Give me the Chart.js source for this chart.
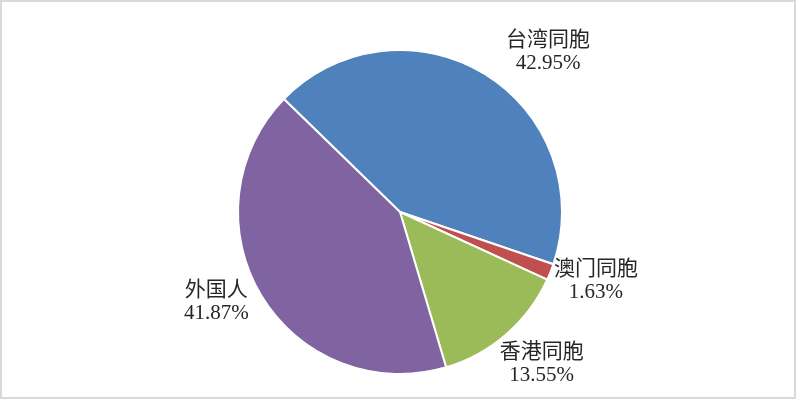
<!DOCTYPE html>
<html>
<head>
<meta charset="utf-8">
<script src="https://cdn.jsdelivr.net/npm/chart.js@4"></script>
<style>
  html, body { margin: 0; padding: 0; background: #fff; }
  #wrap { width: 796px; height: 399px; position: relative; }
</style>
</head>
<body>
<div id="wrap"><canvas id="grafikPie" width="796" height="399"></canvas></div>
<script>
// Data
const categories = ["台湾同胞", "澳门同胞", "香港同胞", "外国人"];
const values = [42.95, 1.63, 13.55, 41.87];
const valueLabels = ["42.95%", "1.63%", "13.55%", "41.87%"];
const colors = ["#4F81BD", "#C0504D", "#9BBB59", "#8064A2"];

// label placement: [angle shift from slice middle (deg), distance in radii]
const labelShift = [11.1, -2.6, -2.2, 5.3];
const labelDist = [1.35, 1.28, 1.28, 1.26];

const labelPlugin = {
    id: "labelPlugin",
    beforeDraw(chart) {
        const c = chart.ctx;
        c.save();
        c.fillStyle = "#fff";
        c.fillRect(0, 0, chart.width, chart.height);
        c.strokeStyle = "#d9d9d9";
        c.lineWidth = 2;
        c.strokeRect(1, 1, chart.width - 2, chart.height - 2);
        c.restore();
    },
    afterDatasetsDraw(chart) {
        const c = chart.ctx;
        const arcs = chart.getDatasetMeta(0).data;
        c.save();
        c.fillStyle = "#262626";
        c.textAlign = "center";
        c.textBaseline = "middle";
        c.font = "21px 'Liberation Serif', 'Noto Sans CJK SC', serif";
        arcs.forEach((arc, i) => {
            const mid = (arc.startAngle + arc.endAngle) / 2 + labelShift[i] * Math.PI / 180;
            const r = arc.outerRadius * labelDist[i];
            const x = arc.x + Math.cos(mid) * r;
            const y = arc.y + Math.sin(mid) * r;
            c.fillText(categories[i], x, y - 11);
            c.fillText(valueLabels[i], x, y + 12);
        });
        c.restore();
    }
};

const ctx = document.getElementById("grafikPie").getContext("2d");
new Chart(ctx, {
    type: "pie",
    data: {
        labels: categories,
        datasets: [{
            data: values,
            backgroundColor: colors,
            borderColor: "#ffffff",
            borderWidth: 2
        }]
    },
    options: {
        responsive: false,
        animation: false,
        devicePixelRatio: 1,
        rotation: -45.8,
        layout: { padding: { top: 49, bottom: 24, left: 4, right: 0 } },
        plugins: {
            legend: { display: false },
            tooltip: { enabled: false }
        }
    },
    plugins: [labelPlugin]
});
</script>
</body>
</html>
